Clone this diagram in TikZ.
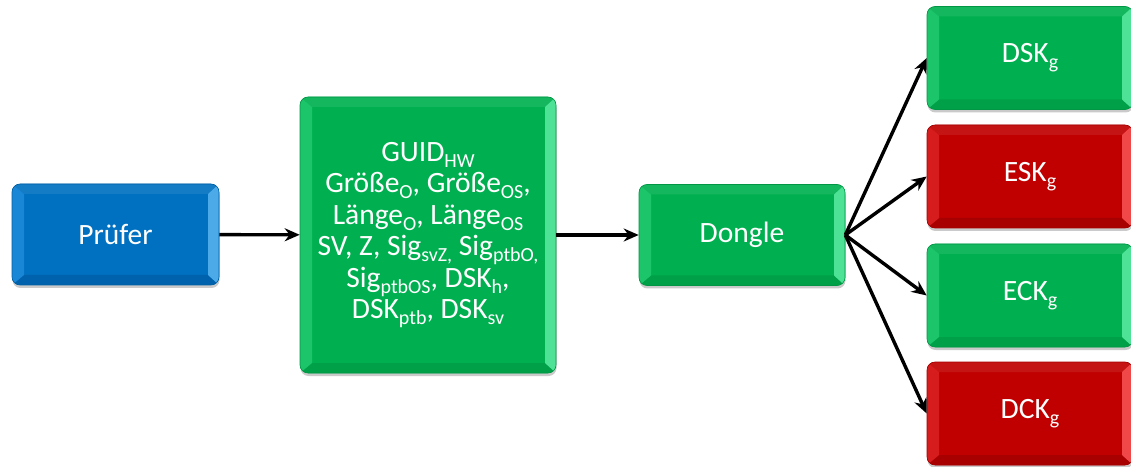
\documentclass[tikz,border=0pt]{standalone}
\usepackage{fontspec}
\setmainfont{Carlito}
\usetikzlibrary{arrows.meta,shadows}
\definecolor{gmain}{HTML}{00B050}
\definecolor{gleft}{HTML}{1CC46A}
\definecolor{gright}{HTML}{4EE296}
\definecolor{gbot}{HTML}{00A048}
\definecolor{bmain}{HTML}{0070C0}
\definecolor{bleft}{HTML}{1A86D6}
\definecolor{bright}{HTML}{4CAAE8}
\definecolor{bbot}{HTML}{0062AC}
\definecolor{rmain}{HTML}{C00000}
\definecolor{rleft}{HTML}{D61C1C}
\definecolor{rright}{HTML}{F04848}
\definecolor{rbot}{HTML}{A80000}
\newcommand\sbs[1]{\raisebox{-0.2em}{\fontsize{20}{20}\selectfont #1}}
\tikzset{
  bevel/.style n args={4}{fill=#1, draw=#1!85!black, line width=0.6pt, rounded corners=8pt,
    drop shadow={shadow xshift=0.5pt, shadow yshift=-3pt, opacity=0.35, fill=black!60},
    text=white, align=center, font=\fontsize{29.5}{31.5}\selectfont, inner sep=0pt,
    path picture={
      \path (path picture bounding box.south west) coordinate (bA)
            (path picture bounding box.north east) coordinate (bB)
            (path picture bounding box.north west) coordinate (bC)
            (path picture bounding box.south east) coordinate (bD);
      \fill[#1!92!white, sharp corners] (bC) -- ([shift={(12pt,-10pt)}]bC) -- ([shift={(-11pt,-10pt)}]bB) -- (bB) -- cycle;
      \fill[#4, sharp corners] (bA) -- ([shift={(12pt,10pt)}]bA) -- ([shift={(-11pt,10pt)}]bD) -- (bD) -- cycle;
      \fill[#2, sharp corners] (bA) -- ([shift={(12pt,10pt)}]bA) -- ([shift={(12pt,-10pt)}]bC) -- (bC) -- cycle;
      \fill[#3, sharp corners] (bD) -- ([shift={(-11pt,10pt)}]bD) -- ([shift={(-11pt,-10pt)}]bB) -- (bB) -- cycle;
    }},
  gbox/.style={bevel={gmain}{gleft}{gright}{gbot}},
  bbox/.style={bevel={bmain}{bleft}{bright}{bbot}},
  rbox/.style={bevel={rmain}{rleft}{rright}{rbot}},
  conn/.style={line width=3.4pt, -{Stealth[length=15pt,width=13pt]}}
}
\begin{document}
\begin{tikzpicture}[x=1pt,y=1pt]
\useasboundingbox (0,0) rectangle (1131,466);
\node[bbox, minimum width=207pt, minimum height=101pt] (pr) at (115.5,231.5) {Prüfer};
\node[gbox, minimum width=256pt, minimum height=276pt] (big) at (428,231) {GUID\sbs{HW}\\
Größe\sbs{O}, Größe\sbs{OS},\\
Länge\sbs{O}, Länge\sbs{OS}\\
SV, Z, Sig\sbs{svZ,} Sig\sbs{ptbO,}\\
Sig\sbs{ptbOS}, DSK\sbs{h},\\
DSK\sbs{ptb}, DSK\sbs{sv}};
\node[gbox, minimum width=206pt, minimum height=101pt] (dg) at (742,231) {Dongle};
\node[gbox, minimum width=206pt, minimum height=103pt] (dsk) at (1030,408) {DSK\sbs{g}};
\node[rbox, minimum width=206pt, minimum height=103pt] (esk) at (1030,289.5) {ESK\sbs{g}};
\node[gbox, minimum width=206pt, minimum height=103pt] (eck) at (1030,170.5) {ECK\sbs{g}};
\node[rbox, minimum width=206pt, minimum height=103pt] (dck) at (1030,52.5) {DCK\sbs{g}};
\draw[conn] (pr) -- (big);
\draw[conn] (big) -- (dg);
\draw[conn] (dg.east) -- (dsk.west);
\draw[conn] (dg.east) -- (esk.west);
\draw[conn] (dg.east) -- (eck.west);
\draw[conn] (dg.east) -- (dck.west);
\end{tikzpicture}
\end{document}
